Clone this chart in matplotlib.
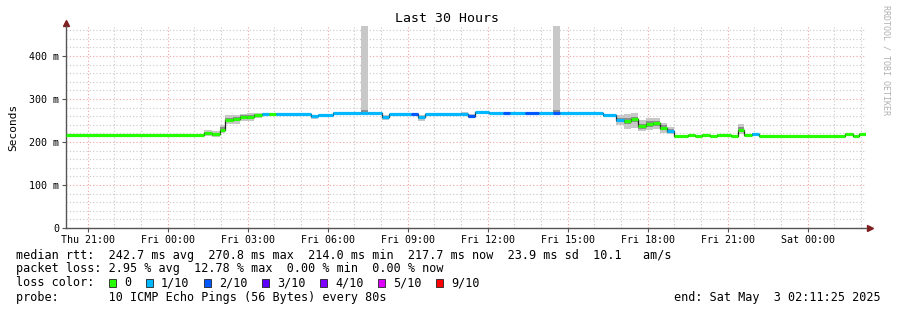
import numpy as np
import matplotlib
matplotlib.use("Agg")
import matplotlib.pyplot as plt
from matplotlib.patches import Rectangle

# hours relative to Fri 00:00, start of each step
seg_start = [-3.81, 1.35, 1.65, 1.95, 2.14, 2.44, 2.70, 2.96, 3.23, 3.53,
             3.79, 4.05, 5.36, 5.63, 6.19, 7.24, 7.50, 8.03, 8.29, 9.11,
             9.38, 9.64, 10.99, 11.25, 11.51, 12.04, 12.56, 12.83, 13.39, 13.91,
             14.44, 14.70, 16.31, 16.80, 17.10, 17.36, 17.63, 17.93, 18.19, 18.45,
             18.71, 18.98, 19.50, 19.76, 20.03, 20.33, 20.59, 21.11, 21.38, 21.60,
             21.90, 22.16, 25.39, 25.69, 25.91]
t_end = 26.19

# median rtt (ms)
median = [217, 221, 218, 229, 252, 253, 258, 259, 263, 265,
          265, 266, 260, 263, 268, 268, 268, 258, 265, 265,
          258, 265, 266, 261, 270, 267, 267, 267, 268, 267,
          268, 268, 264, 251, 249, 253, 237, 242, 244, 233,
          226, 214, 216, 213, 217, 214, 217, 214, 228, 216,
          219, 214, 219, 214, 219]

# lost pings out of 10
loss = [0, 0, 0, 0, 0, 0, 0, 0, 0, 1,
        0, 1, 1, 1, 1, 1, 1, 1, 1, 2,
        1, 1, 1, 2, 1, 1, 2, 1, 2, 1,
        2, 1, 1, 1, 0, 0, 0, 0, 0, 0,
        1, 0, 0, 0, 0, 0, 0, 0, 0, 0,
        1, 0, 0, 0, 0]

# smoke: min / max ping (ms)
smoke_lo = [217, 214, 212, 222, 242, 243, 248, 250, 256, 262,
            263, 265, 254, 261, 267, 267, 267, 252, 264, 264,
            250, 264, 265, 255, 269, 266, 266, 266, 267, 266,
            267, 267, 262, 240, 230, 232, 225, 228, 230, 220,
            218, 213, 215, 212, 215, 213, 215, 213, 218, 215,
            217, 213, 217, 213, 217]
smoke_hi = [217, 228, 226, 240, 262, 264, 266, 268, 268, 267,
            267, 267, 262, 265, 269, 600, 269, 262, 266, 266,
            262, 266, 271, 266, 271, 268, 268, 271, 269, 268,
            600, 269, 266, 262, 266, 268, 252, 256, 257, 244,
            236, 215, 218, 214, 218, 215, 218, 215, 242, 217,
            221, 215, 220, 215, 220]

loss_labels = ["0", "1/10", "2/10", "3/10", "4/10", "5/10", "9/10"]
loss_colors = ["#26ff00", "#00b8ff", "#0059ff", "#5e00ff", "#7e00ff", "#dd00ff", "#ff0000"]

x_ticks = [-3, 0, 3, 6, 9, 12, 15, 18, 21, 24]
x_tick_labels = ["Thu 21:00", "Fri 00:00", "Fri 03:00", "Fri 06:00", "Fri 09:00",
                 "Fri 12:00", "Fri 15:00", "Fri 18:00", "Fri 21:00", "Sat 00:00"]
y_ticks = [0, 100, 200, 300, 400]
y_tick_labels = ["0", "100 m", "200 m", "300 m", "400 m"]

rtt_line = "median rtt:  242.7 ms avg  270.8 ms max  214.0 ms min  217.7 ms now  23.9 ms sd  10.1   am/s"
loss_line = "packet loss: 2.95 % avg  12.78 % max  0.00 % min  0.00 % now"
probe_line = "probe:       10 ICMP Echo Pings (56 Bytes) every 80s"
end_line = "end: Sat May  3 02:11:25 2025"

mono = "DejaVu Sans Mono"
W, H = 897, 310
fig = plt.figure(figsize=(W / 100, H / 100), dpi=100)
fig.patch.set_facecolor("white")
ax = fig.add_axes([66 / W, (H - 228) / H, 800 / W, (228 - 26) / H])

x0 = seg_start[0]
ax.set_xlim(x0, t_end)
ax.set_ylim(0, 470)

edges = np.array(seg_start + [t_end])
med = np.array(median + [median[-1]], dtype=float)
lo = np.array(smoke_lo + [smoke_lo[-1]], dtype=float)
hi = np.array(smoke_hi + [smoke_hi[-1]], dtype=float)
in_lo = med - np.clip((med - lo) * 0.5, 0, 6)
in_hi = med + np.clip((hi - med) * 0.5, 0, 6)

ax.fill_between(edges, lo, hi, step="post", color="#c8c8c8", lw=0, zorder=2)
ax.fill_between(edges, in_lo, in_hi, step="post", color="#8c8c8c", lw=0, zorder=3)
ax.step(edges, med, where="post", color="#202020", lw=0.9, zorder=4)
for i in range(len(median)):
    ax.hlines(median[i], edges[i], edges[i + 1], color=loss_colors[loss[i]],
              lw=2.3, zorder=5)

# grid
ax.set_xticks(x_ticks)
ax.set_xticks(np.arange(-3, 27, 1), minor=True)
ax.set_yticks(y_ticks)
ax.set_yticks(np.arange(0, 470, 20), minor=True)
ax.set_xticklabels(x_tick_labels, fontfamily=mono, fontsize=7.2)
ax.set_yticklabels(y_tick_labels, fontfamily=mono, fontsize=7.2)
ax.grid(which="minor", color="#c8c8c8", ls=(0, (1, 2)), lw=0.8)
ax.grid(which="major", color="#f2a0a0", ls=(0, (1, 2)), lw=0.8)
ax.set_axisbelow(True)
ax.tick_params(which="major", length=3, width=0.8, color="#555555", pad=2)
ax.tick_params(which="minor", length=0)
for s in ["top", "right"]:
    ax.spines[s].set_visible(False)
for s in ["left", "bottom"]:
    ax.spines[s].set_color("#555555")
    ax.spines[s].set_linewidth(1)
ax.set_ylabel("Seconds", fontfamily=mono, fontsize=8, labelpad=8)

ax.plot([0], [1.015], marker="^", ms=4, color="#7f1f1f", transform=ax.transAxes, clip_on=False)
ax.plot([1.005], [0], marker=">", ms=4, color="#7f1f1f", transform=ax.transAxes, clip_on=False)

fig.text(447 / W, 1 - 19 / H, "Last 30 Hours", fontfamily=mono, fontsize=9.5,
         ha="center", va="center")
fig.text(886 / W, 1 - 5 / H, "RRDTOOL / TOBI OETIKER", fontfamily=mono, fontsize=6,
         color="#b0b0b0", rotation=270, ha="center", va="top")

fs = 8.5
fig.text(16 / W, 1 - 255 / H, rtt_line, fontfamily=mono, fontsize=fs, va="center")
fig.text(16 / W, 1 - 268.5 / H, loss_line, fontfamily=mono, fontsize=fs, va="center")
fig.text(16 / W, 1 - 283 / H, "loss color:", fontfamily=mono, fontsize=fs, va="center")
fig.text(16 / W, 1 - 297 / H, probe_line, fontfamily=mono, fontsize=fs, va="center")
fig.text(881 / W, 1 - 297 / H, end_line, fontfamily=mono, fontsize=fs, va="center", ha="right")

box_x = [109, 146, 204, 262, 320, 378, 436]
for bx, lab, col in zip(box_x, loss_labels, loss_colors):
    fig.patches.append(Rectangle((bx / W, 1 - 287 / H), 7 / W, 8 / H, transform=fig.transFigure,
                                 facecolor=col, edgecolor="#222222", lw=0.6))
    fig.text((bx + 15) / W, 1 - 283 / H, lab, fontfamily=mono, fontsize=fs, va="center")

fig.savefig("out.png", dpi=100, facecolor="white")
